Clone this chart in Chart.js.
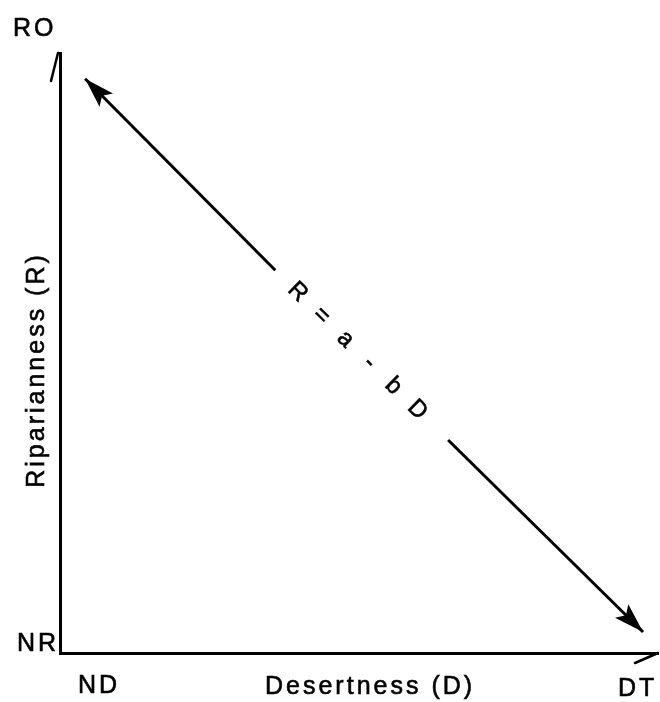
<!DOCTYPE html>
<html>
<head>
<meta charset="utf-8">
<script src="https://cdn.jsdelivr.net/npm/chart.js@4/dist/chart.umd.min.js"></script>
<style>
  html, body { margin: 0; padding: 0; background: #fff; }
  #wrap { width: 660px; height: 702px; }
</style>
</head>
<body>
<div id="wrap"><canvas id="myChart"></canvas></div>
<script>
// labels
var xEndLabels = ['ND', 'DT'];
var yEndLabels = ['NR', 'RO'];
var xTitle = 'Desertness (D)';
var yTitle = 'Riparianness (R)';
var eqTokens = ['R', '=', 'a', '-', 'b', 'D'];

// the line R = a - bD, drawn in two pieces around the equation
var upperX = [0.042, 0.36];
var upperY = [0.957, 0.638];
var lowerX = [0.649, 0.975];
var lowerY = [0.355, 0.035];

function toPoints(xs, ys) {
    return xs.map(function(x, i) { return {x: x, y: ys[i]}; });
}

var FONT = '"Liberation Sans", Arial, Helvetica, sans-serif';

function arrowHead(ctx, fromX, fromY, tipX, tipY, len, half) {
    var a = Math.atan2(tipY - fromY, tipX - fromX);
    ctx.save();
    ctx.translate(tipX, tipY);
    ctx.rotate(a);
    ctx.beginPath();
    ctx.moveTo(0, 0);
    ctx.lineTo(-len, -half);
    ctx.lineTo(-len * 0.8, 0);
    ctx.lineTo(-len, half);
    ctx.closePath();
    ctx.fillStyle = '#000';
    ctx.fill();
    ctx.restore();
}

// slightly heavier text, like the scanned original
function inkText(ctx, s, x, y) {
    ctx.fillText(s, x, y);
    ctx.strokeText(s, x, y);
}

var decorPlugin = {
    id: 'decor',
    afterDatasetsDraw: function(chart) {
        var ctx = chart.ctx;
        var xs = chart.scales.x, ys = chart.scales.y;
        var L = xs.getPixelForValue(0), R = xs.getPixelForValue(1);
        var B = ys.getPixelForValue(0), T = ys.getPixelForValue(1);

        // half barbs on the axes
        ctx.save();
        ctx.strokeStyle = '#000';
        ctx.lineWidth = 2.5;
        ctx.lineCap = 'round';
        ctx.beginPath();
        ctx.moveTo(L - 2, T);
        ctx.lineTo(L - 9, T + 28);
        ctx.moveTo(R, B);
        ctx.lineTo(R - 23, B + 10);
        ctx.stroke();
        ctx.restore();

        // arrow heads on the diagonal
        var up = chart.getDatasetMeta(0).data;
        var lo = chart.getDatasetMeta(1).data;
        arrowHead(ctx, up[1].x, up[1].y, up[0].x, up[0].y, 30, 9.5);
        arrowHead(ctx, lo[0].x, lo[0].y, lo[1].x, lo[1].y, 30, 9.5);

        // equation along the line
        var ang = Math.atan2(lo[0].y - up[1].y, lo[0].x - up[1].x);
        var cx = (up[1].x + lo[0].x) / 2 - 6 * Math.cos(ang);
        var cy = (up[1].y + lo[0].y) / 2 - 6 * Math.sin(ang);
        var step = 33.6;
        ctx.save();
        ctx.translate(cx, cy);
        ctx.rotate(ang);
        ctx.fillStyle = '#000';
        ctx.strokeStyle = '#000';
        ctx.lineWidth = 0.6;
        ctx.font = '24px ' + FONT;
        ctx.textAlign = 'center';
        ctx.textBaseline = 'middle';
        for (var i = 0; i < eqTokens.length; i++) {
            var off = (i - (eqTokens.length - 1) / 2) * step;
            inkText(ctx, eqTokens[i], off, 0);
        }
        ctx.restore();

        // end labels and titles
        ctx.save();
        ctx.fillStyle = '#000';
        ctx.strokeStyle = '#000';
        ctx.lineWidth = 0.6;
        ctx.font = '25px ' + FONT;
        ctx.textBaseline = 'alphabetic';
        ctx.textAlign = 'left';
        ctx.letterSpacing = '3px';
        inkText(ctx, yEndLabels[1], L - 47, T - 17);
        inkText(ctx, yEndLabels[0], L - 43, B - 2);
        inkText(ctx, xEndLabels[0], L + 18, B + 40);
        inkText(ctx, xEndLabels[1], R - 40, B + 43);
        inkText(ctx, xTitle, 265, B + 41);
        ctx.translate(44, 370);
        ctx.rotate(-Math.PI / 2);
        ctx.textAlign = 'center';
        inkText(ctx, yTitle, 0, 0);
        ctx.restore();
    }
};

var lineStyle = {
    showLine: true,
    borderColor: '#000',
    borderWidth: 3,
    pointRadius: 0,
    fill: false
};

var chart = new Chart(document.getElementById('myChart').getContext('2d'), {
    type: 'scatter',
    data: {
        datasets: [
            Object.assign({label: 'upper', data: toPoints(upperX, upperY)}, lineStyle),
            Object.assign({label: 'lower', data: toPoints(lowerX, lowerY)}, lineStyle)
        ]
    },
    options: {
        responsive: true,
        maintainAspectRatio: false,
        animation: false,
        layout: { padding: { left: 60, right: 2, top: 53, bottom: 49 } },
        plugins: {
            legend: { display: false },
            tooltip: { enabled: false }
        },
        scales: {
            x: {
                type: 'linear', min: 0, max: 1,
                ticks: { display: false },
                grid: { display: false, drawTicks: false },
                border: { display: true, color: '#000', width: 3 }
            },
            y: {
                type: 'linear', min: 0, max: 1,
                ticks: { display: false },
                grid: { display: false, drawTicks: false },
                border: { display: true, color: '#000', width: 3 }
            }
        }
    },
    plugins: [decorPlugin]
});
</script>
</body>
</html>
